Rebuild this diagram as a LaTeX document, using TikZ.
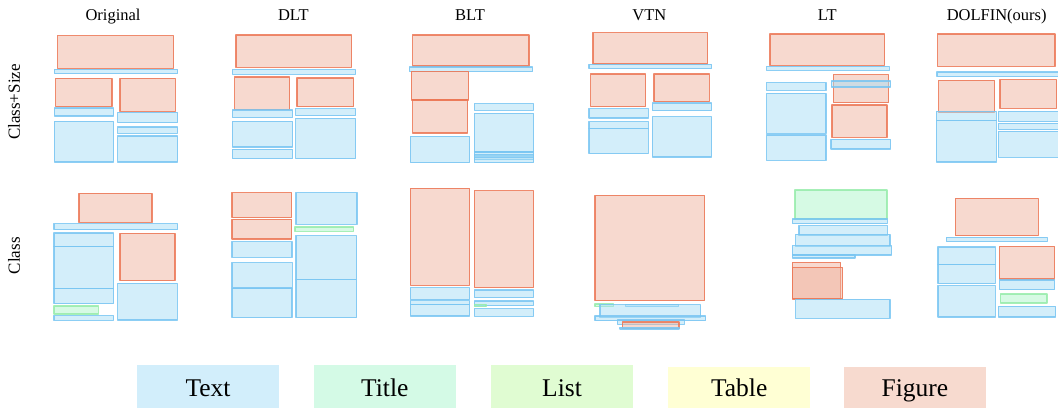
\documentclass[tikz,border=0pt]{standalone}
\usepackage{fontspec}
\setmainfont{Liberation Serif}
\definecolor{txf}{RGB}{167,221,245}
\definecolor{txd}{RGB}{120,197,242}
\definecolor{fgf}{RGB}{239,179,159}
\definecolor{fgd}{RGB}{236,118,84}
\definecolor{lsf}{RGB}{173,245,201}
\definecolor{lsd}{RGB}{150,236,170}
\definecolor{legtext}{RGB}{210,238,251}
\definecolor{legtitle}{RGB}{212,250,230}
\definecolor{leglist}{RGB}{224,252,210}
\definecolor{legtable}{RGB}{255,255,212}
\definecolor{legfig}{RGB}{247,218,207}
\tikzset{
  tb/.style={draw=txd,fill=txf,fill opacity=0.5,draw opacity=0.85,line width=1.4pt,line join=round},
  fb/.style={draw=fgd,fill=fgf,fill opacity=0.5,draw opacity=0.85,line width=1.4pt,line join=round},
  lb/.style={draw=lsd,fill=lsf,fill opacity=0.5,draw opacity=0.85,line width=1.4pt,line join=round},
  coltitle/.style={font=\fontsize{16.5}{18}\selectfont,anchor=base,inner sep=0pt},
  rowlabel/.style={font=\fontsize{17}{19}\selectfont,rotate=90,inner sep=0pt},
  legbox/.style={inner sep=0pt,font=\fontsize{25.5}{27}\selectfont}
}
\begin{document}
\begin{tikzpicture}[x=1pt,y=-1pt]
\useasboundingbox (0,0) rectangle (1058,408);
% column titles
\node[coltitle] (t1) at (113,20.7) {Original};
\node[coltitle] (t2) at (293.3,20.7) {DLT};
\node[coltitle] (t3) at (470,20.7) {BLT};
\node[coltitle] (t4) at (649.3,20.7) {VTN};
\node[coltitle] (t5) at (827.3,20.7) {LT};
\node[coltitle] (t6) at (996.7,20.7) {DOLFIN(ours)};
% row labels
\node[rowlabel] (r1) at (14,102) {Class+Size};
\node[rowlabel] (r2) at (14,255.7) {Class};

%%%%% Row 1
% Original
\draw[fb] (57.7,35.7) rectangle (173.7,68.3);
\draw[tb] (54.3,69.3) rectangle (177.7,73.7);
\draw[fb] (55.7,78.3) rectangle (112,106.7);
\draw[fb] (120,78.3) rectangle (175.3,111.3);
\draw[tb] (54.3,108) rectangle (113.7,116);
\draw[tb] (117.7,112.3) rectangle (177.7,122.7);
\draw[tb] (54.3,121.3) rectangle (113.7,162);
\draw[tb] (117.7,127) rectangle (177.7,133.3);
\draw[tb] (117.7,136) rectangle (177.7,162);
% DLT
\draw[fb] (236,35) rectangle (351.7,67.3);
\draw[tb] (232.3,69.7) rectangle (355.7,74.3);
\draw[fb] (234.7,77) rectangle (289.7,109.3);
\draw[fb] (297,78) rectangle (353.7,106.7);
\draw[tb] (232.3,110) rectangle (292.7,117.7);
\draw[tb] (295.7,108.7) rectangle (355.7,115.7);
\draw[tb] (232.3,121.3) rectangle (292.7,147);
\draw[tb] (232.3,149.3) rectangle (292.7,158.7);
\draw[tb] (295.7,118.3) rectangle (355.7,158.7);
% BLT
\draw[fb] (412.7,35) rectangle (529,66);
\draw[tb] (409.3,67) rectangle (532.7,71.7);
\draw[fb] (411.3,71.3) rectangle (468.7,100);
\draw[fb] (412.7,100) rectangle (467.7,133);
\draw[tb] (474.3,103.7) rectangle (533.7,110.3);
\draw[tb] (474.3,113.3) rectangle (533.7,152);
\draw[tb] (474.3,152) rectangle (533.7,156);
\draw[tb] (474.3,154.5) rectangle (533.7,159.5);
\draw[tb] (474.3,157.5) rectangle (533.7,162.7);
\draw[tb] (410.3,136.3) rectangle (469.7,162.7);
% VTN
\draw[fb] (593,32.7) rectangle (707.7,64);
\draw[tb] (589,64.3) rectangle (711.7,68.7);
\draw[fb] (590.7,74) rectangle (645.7,106.7);
\draw[fb] (654,74) rectangle (709.3,101.7);
\draw[tb] (589,108.7) rectangle (648.3,118);
\draw[tb] (652.3,103) rectangle (711.7,110.7);
\draw[tb] (589,121.7) rectangle (648.3,128.3);
\draw[tb] (589,128.3) rectangle (648.3,153.7);
\draw[tb] (652.3,116.7) rectangle (711.7,157);
% LT
\draw[fb] (770,34) rectangle (884.7,65.3);
\draw[tb] (766.7,66.3) rectangle (889.3,70.3);
\draw[tb] (766.7,82.7) rectangle (826,90.3);
\draw[tb] (766.7,93.3) rectangle (826,133.3);
\draw[tb] (766.7,135) rectangle (826,160.3);
\draw[fb] (833.3,74.7) rectangle (888.7,102.7);
\draw[tb] (831.3,81) rectangle (890.7,87);
\draw[fb] (832,105) rectangle (887,137.3);
\draw[tb] (831,139.3) rectangle (890.7,149);
% DOLFIN
\draw[fb] (937.7,34) rectangle (1055,66.3);
\draw[tb] (937,72) rectangle (1060,76.7);
\draw[fb] (938.7,80.3) rectangle (994.7,112);
\draw[fb] (1000,79.7) rectangle (1056.7,108.3);
\draw[tb] (936.3,111.3) rectangle (996.3,120.3);
\draw[tb] (936.3,120.3) rectangle (996.3,162);
\draw[tb] (998.3,111.3) rectangle (1060,121.7);
\draw[tb] (998.3,123.3) rectangle (1060,129.7);
\draw[tb] (998.3,131.3) rectangle (1060,157.3);

%%%%% Row 2
% Original
\draw[fb] (79,193.3) rectangle (152,222.3);
\draw[tb] (54,223.7) rectangle (177.7,229.7);
\draw[tb] (54,233) rectangle (113.7,246.7);
\draw[tb] (54,246.7) rectangle (113.7,288.7);
\draw[tb] (54,288.7) rectangle (113.7,303.7);
\draw[lb] (54,306) rectangle (98.3,314);
\draw[tb] (54,315.7) rectangle (113.7,320.3);
\draw[fb] (120,233.3) rectangle (175,280.7);
\draw[tb] (117.7,283.3) rectangle (177.3,320);
% DLT
\draw[fb] (232,192.7) rectangle (291.7,217.7);
\draw[fb] (232,219.3) rectangle (291.7,239);
\draw[tb] (232,241.7) rectangle (292,257.3);
\draw[tb] (232,262.7) rectangle (292.3,288);
\draw[tb] (232,288.7) rectangle (292,317.7);
\draw[tb] (296,192.7) rectangle (357,224.3);
\draw[lb] (295,227) rectangle (353.7,231.3);
\draw[tb] (296,235.7) rectangle (356.7,279.3);
\draw[tb] (296,279.3) rectangle (356.7,317.7);
% BLT
\draw[fb] (410.3,188.3) rectangle (469.7,285.3);
\draw[fb] (474.3,190.7) rectangle (533.7,287.7);
\draw[tb] (410.3,287.7) rectangle (469.7,299.7);
\draw[tb] (410.3,300.7) rectangle (469.7,304.7);
\draw[tb] (410.3,304.7) rectangle (469.7,316);
\draw[tb] (474.3,290) rectangle (533.7,297.7);
\draw[tb] (474.3,301) rectangle (533.7,305.7);
\draw[lb] (474.3,304.3) rectangle (486,306.7);
\draw[tb] (474.3,308.7) rectangle (533.7,316.3);
% VTN
\draw[fb] (595,195.3) rectangle (704.7,300.7);
\draw[lb] (595,304) rectangle (613.3,306.3);
\draw[tb] (625.7,304.7) rectangle (678.7,306.7);
\draw[tb] (600,304.7) rectangle (700.7,317.3);
\draw[tb] (595,316) rectangle (705.7,320.7);
\draw[tb] (617.3,320) rectangle (684.3,324.3);
\draw[fb] (622.3,322) rectangle (679,328.7);
\draw[tb] (620,327.3) rectangle (679,329);
% LT
\draw[lb] (795,190) rectangle (887,219);
\draw[tb] (792.3,219) rectangle (887.3,223.7);
\draw[tb] (799,225.7) rectangle (887.3,235.7);
\draw[tb] (795.7,234.3) rectangle (890,246.3);
\draw[tb] (792.3,245.7) rectangle (891.7,255);
\draw[tb] (792.3,255) rectangle (855,258);
\draw[fb] (792.3,262.3) rectangle (840.7,298.3);
\draw[fb] (792.3,267.3) rectangle (842.7,299);
\draw[tb] (795.7,299.3) rectangle (890,318.3);
% DOLFIN
\draw[fb] (955.3,198.3) rectangle (1038.3,235.7);
\draw[tb] (946.3,237.3) rectangle (1047.3,241.7);
\draw[tb] (938,247) rectangle (995.3,264.7);
\draw[tb] (938,264.7) rectangle (995.3,283.7);
\draw[tb] (938,285.7) rectangle (995.3,317);
\draw[fb] (999.3,246.3) rectangle (1054.7,279);
\draw[tb] (999.3,280) rectangle (1054.7,289.7);
\draw[lb] (1000.3,294) rectangle (1047,303);
\draw[tb] (998.3,306.3) rectangle (1055.7,317);

%%%%% Legend
\fill[legtext] (137.3,365) rectangle (278.7,408);
\fill[legtitle] (314,365) rectangle (455.7,408);
\fill[leglist] (491,365) rectangle (633,408);
\fill[legtable] (668.3,367) rectangle (810,408);
\fill[legfig] (844,367) rectangle (986,408);
\node[legbox,anchor=base] (l1) at (208,396) {Text};
\node[legbox,anchor=base] (l2) at (384.8,396) {Title};
\node[legbox,anchor=base] (l3) at (562,396) {List};
\node[legbox,anchor=base] (l4) at (739.2,396) {Table};
\node[legbox,anchor=base] (l5) at (915,396) {Figure};
\end{tikzpicture}
\end{document}
